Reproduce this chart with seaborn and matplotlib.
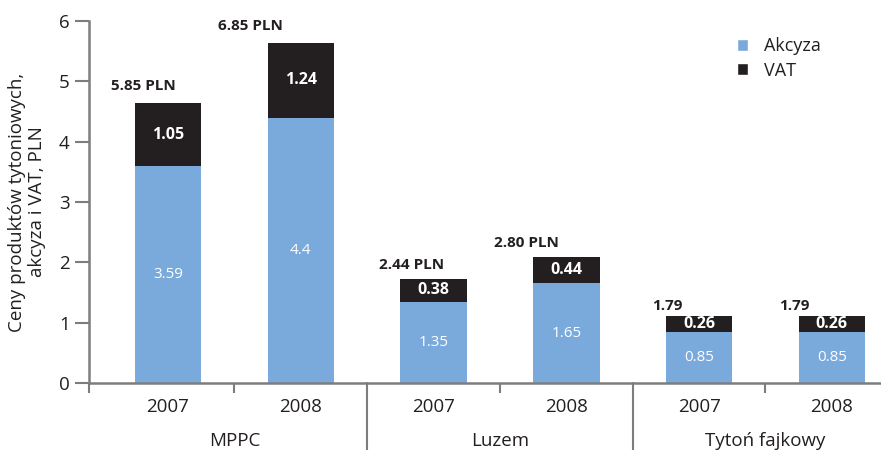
import matplotlib
matplotlib.use("Agg")
import matplotlib.pyplot as plt
import matplotlib.transforms as mtransforms
from matplotlib.patches import Patch
import seaborn as sns
import pandas as pd

# ---- data ----
groups = ["MPPC", "MPPC", "Luzem", "Luzem", "Tytoń fajkowy", "Tytoń fajkowy"]
years = ["2007", "2008", "2007", "2008", "2007", "2008"]
akcyza = [3.59, 4.4, 1.35, 1.65, 0.85, 0.85]
vat = [1.05, 1.24, 0.38, 0.44, 0.26, 0.26]
akcyza_labels = ["3.59", "4.4", "1.35", "1.65", "0.85", "0.85"]
vat_labels = ["1.05", "1.24", "0.38", "0.44", "0.26", "0.26"]
price_labels = ["5.85 PLN", "6.85 PLN", "2.44 PLN", "2.80 PLN", "1.79", "1.79"]
group_names = ["MPPC", "Luzem", "Tytoń fajkowy"]
y_ticks = [0, 1, 2, 3, 4, 5, 6]

# ---- style ----
BLUE = "#7aaadb"
DARK = "#231f20"
GRAY = "#7d7d7d"
TXT = "#231f20"
price_dx = [-25, -50, -22, -40, -32, -38]   # px shift of price labels
price_dy = [17, 17, 14, 14, 10, 10]

sns.set_theme(style="white")
plt.rcParams["font.family"] = ["Open Sans", "DejaVu Sans"]

cats = [f"{g} {y}" for g, y in zip(groups, years)]
df = pd.DataFrame({"cat": cats, "akcyza": akcyza, "vat": vat})
df["total"] = df["akcyza"] + df["vat"]

fig = plt.figure(figsize=(8.81, 4.5), dpi=100)
ax = fig.add_axes([89 / 881, 67 / 450, (881 - 89) / 881, 362 / 450])

sns.barplot(data=df, x="cat", y="total", color=DARK, saturation=1, width=0.5, ax=ax,
            order=cats, linewidth=0)
sns.barplot(data=df, x="cat", y="akcyza", color=BLUE, saturation=1, width=0.5, ax=ax,
            order=cats, linewidth=0)

ax.set_xlim(-0.595, 5.37)
ax.set_ylim(0, 6)
ax.set_yticks(y_ticks)
ax.set_yticklabels([str(t) for t in y_ticks], fontsize=13.5, color=TXT)
ax.set_ylabel("Ceny produktów tytoniowych,\nakcyza i VAT, PLN", fontsize=13.5, color=TXT, labelpad=9)
ax.set_xlabel("")

for s in ["top", "right"]:
    ax.spines[s].set_visible(False)
for s in ["left", "bottom"]:
    ax.spines[s].set_color(GRAY)
    ax.spines[s].set_linewidth(1.8)

ax.tick_params(axis="y", which="major", direction="out", length=10, width=1.5, color=GRAY, pad=4, left=True)

# x ticks: separators (major, no labels), years (minor, labels)
ax.set_xticks([-0.595, 0.5, 2.5, 4.5])
ax.set_xticklabels([])
ax.tick_params(axis="x", which="major", direction="out", length=7, width=1.5, color=GRAY, bottom=True)
ax.set_xticks(range(len(years)), minor=True)
ax.set_xticklabels(years, minor=True, fontsize=13.5, color=TXT)
ax.tick_params(axis="x", which="minor", length=0, pad=11, bottom=True)

# group separators and group labels
trans = mtransforms.blended_transform_factory(ax.transData, ax.transAxes)
for sx in [1.5, 3.5]:
    ax.plot([sx, sx], [0, -0.2], transform=trans, color=GRAY, lw=1.5, clip_on=False)
for i, name in enumerate(group_names):
    ax.annotate(name, xy=(2 * i + 0.5, 0), xycoords=trans, xytext=(0, -42),
                textcoords="offset points", ha="center", va="center",
                fontsize=13.5, color=TXT, annotation_clip=False)

# value labels
for i in range(len(cats)):
    a = df["akcyza"][i]
    t = df["total"][i]
    ax.text(i, a / 2, akcyza_labels[i], ha="center", va="center", color="white", fontsize=11)
    ax.text(i, a + vat[i] / 2, vat_labels[i], ha="center", va="center", color="white",
            fontsize=11.5, fontweight="bold")
    ax.annotate(price_labels[i], xy=(i, t), xytext=(price_dx[i] / 1.389, price_dy[i] / 1.389),
                textcoords="offset points", ha="center", va="center", color=TXT,
                fontsize=11, fontweight="bold")

handles = [Patch(facecolor=BLUE, label="Akcyza"), Patch(facecolor=DARK, label="VAT")]
leg = ax.legend(handles=handles, loc="upper right", bbox_to_anchor=(0.945, 1.0), frameon=False,
                fontsize=13, handlelength=0.6, handleheight=0.6, handletextpad=0.9, labelspacing=0.35)
for t in leg.get_texts():
    t.set_color(TXT)

fig.savefig("out.png", dpi=100)
